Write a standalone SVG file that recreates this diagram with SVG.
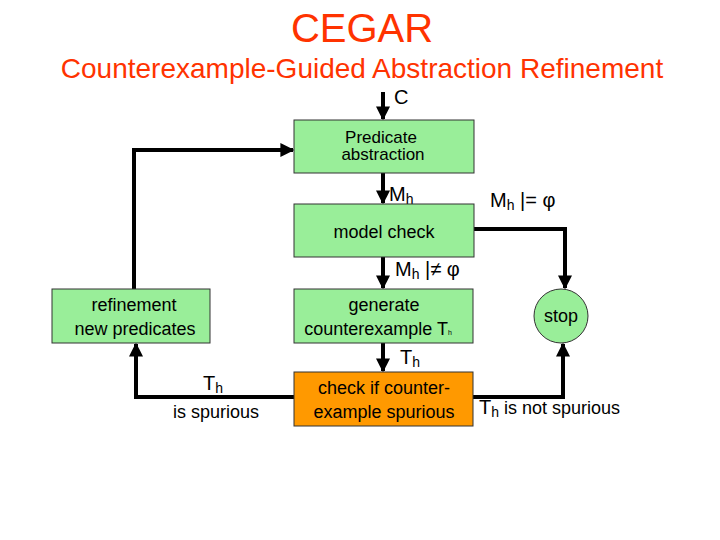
<svg xmlns="http://www.w3.org/2000/svg" width="720" height="540" viewBox="0 0 720 540">
<defs>
<style>
text{font-family:"Liberation Sans",Arial,sans-serif;fill:#000}
.box{fill:#99ee99;stroke:#333;stroke-width:1}
.c{stroke:#000;stroke-width:4;fill:none}
</style>
<marker id="a" viewBox="0 0 10 10" refX="9" refY="5" markerWidth="3.5" markerHeight="3.5" orient="auto"><path d="M0,0L10,5L0,10z" fill="#000"/></marker>
</defs>
<rect width="720" height="540" fill="#fff"/>
<text x="362" y="42" text-anchor="middle" font-size="40" style="fill:#ff3300">CEGAR</text>
<text x="362" y="78" text-anchor="middle" font-size="28" style="fill:#ff3300">Counterexample-Guided Abstraction Refinement</text>
<g id="connectors">
<path class="c" d="M383,92V119" marker-end="url(#a)"/>
<path class="c" d="M134,289V150H293" marker-end="url(#a)"/>
<path class="c" d="M383,173V203" marker-end="url(#a)"/>
<path class="c" d="M474,229H565V288" marker-end="url(#a)"/>
<path class="c" d="M383,257V288" marker-end="url(#a)"/>
<path class="c" d="M383,343V371" marker-end="url(#a)"/>
<path class="c" d="M294,397H136V344" marker-end="url(#a)"/>
<path class="c" d="M473,397H563V344" marker-end="url(#a)"/>
</g>
<text x="394" y="104" font-size="20">C</text>
<text x="389" y="201" font-size="20">M<tspan font-size="14" dy="3">h</tspan></text>
<text x="490" y="207" font-size="20">M<tspan font-size="14" dy="3">h</tspan><tspan dy="-3"> |= φ</tspan></text>
<text x="395" y="276" font-size="20">M<tspan font-size="14" dy="3">h</tspan><tspan dy="-3"> |≠ φ</tspan></text>
<text x="400" y="364" font-size="20">T<tspan font-size="14" dy="3">h</tspan></text>
<text x="203" y="390" font-size="20">T<tspan font-size="14" dy="3">h</tspan></text>
<text x="173" y="418" font-size="18">is spurious</text>
<text x="479" y="414" font-size="20">T<tspan font-size="14" dy="3">h</tspan><tspan font-size="18" dy="-3"> is not spurious</tspan></text>
<g id="pred"><rect class="box" x="294" y="120" width="180" height="53"/>
<text x="381" y="143" text-anchor="middle" font-size="17">Predicate</text>
<text x="383" y="160" text-anchor="middle" font-size="17">abstraction</text></g>
<g id="mc"><rect class="box" x="294" y="204" width="180" height="53"/>
<text x="384" y="238" text-anchor="middle" font-size="18">model check</text></g>
<g id="gen"><rect class="box" x="294" y="289" width="179" height="54"/>
<text x="384" y="311" text-anchor="middle" font-size="18">generate</text>
<text x="378" y="335" text-anchor="middle" font-size="18">counterexample T<tspan font-size="7">h</tspan></text></g>
<g id="check"><rect x="294" y="372" width="179" height="54" fill="#ff9900" stroke="#333"/>
<text x="384" y="394" text-anchor="middle" font-size="18">check if counter-</text>
<text x="384" y="418" text-anchor="middle" font-size="18">example spurious</text></g>
<g id="ref"><rect class="box" x="52" y="289" width="158" height="54"/>
<text x="134" y="311" text-anchor="middle" font-size="18">refinement</text>
<text x="135" y="335" text-anchor="middle" font-size="18">new predicates</text></g>
<g id="stop"><circle class="box" cx="561" cy="316" r="27"/>
<text x="561" y="322" text-anchor="middle" font-size="18">stop</text></g>
</svg>
